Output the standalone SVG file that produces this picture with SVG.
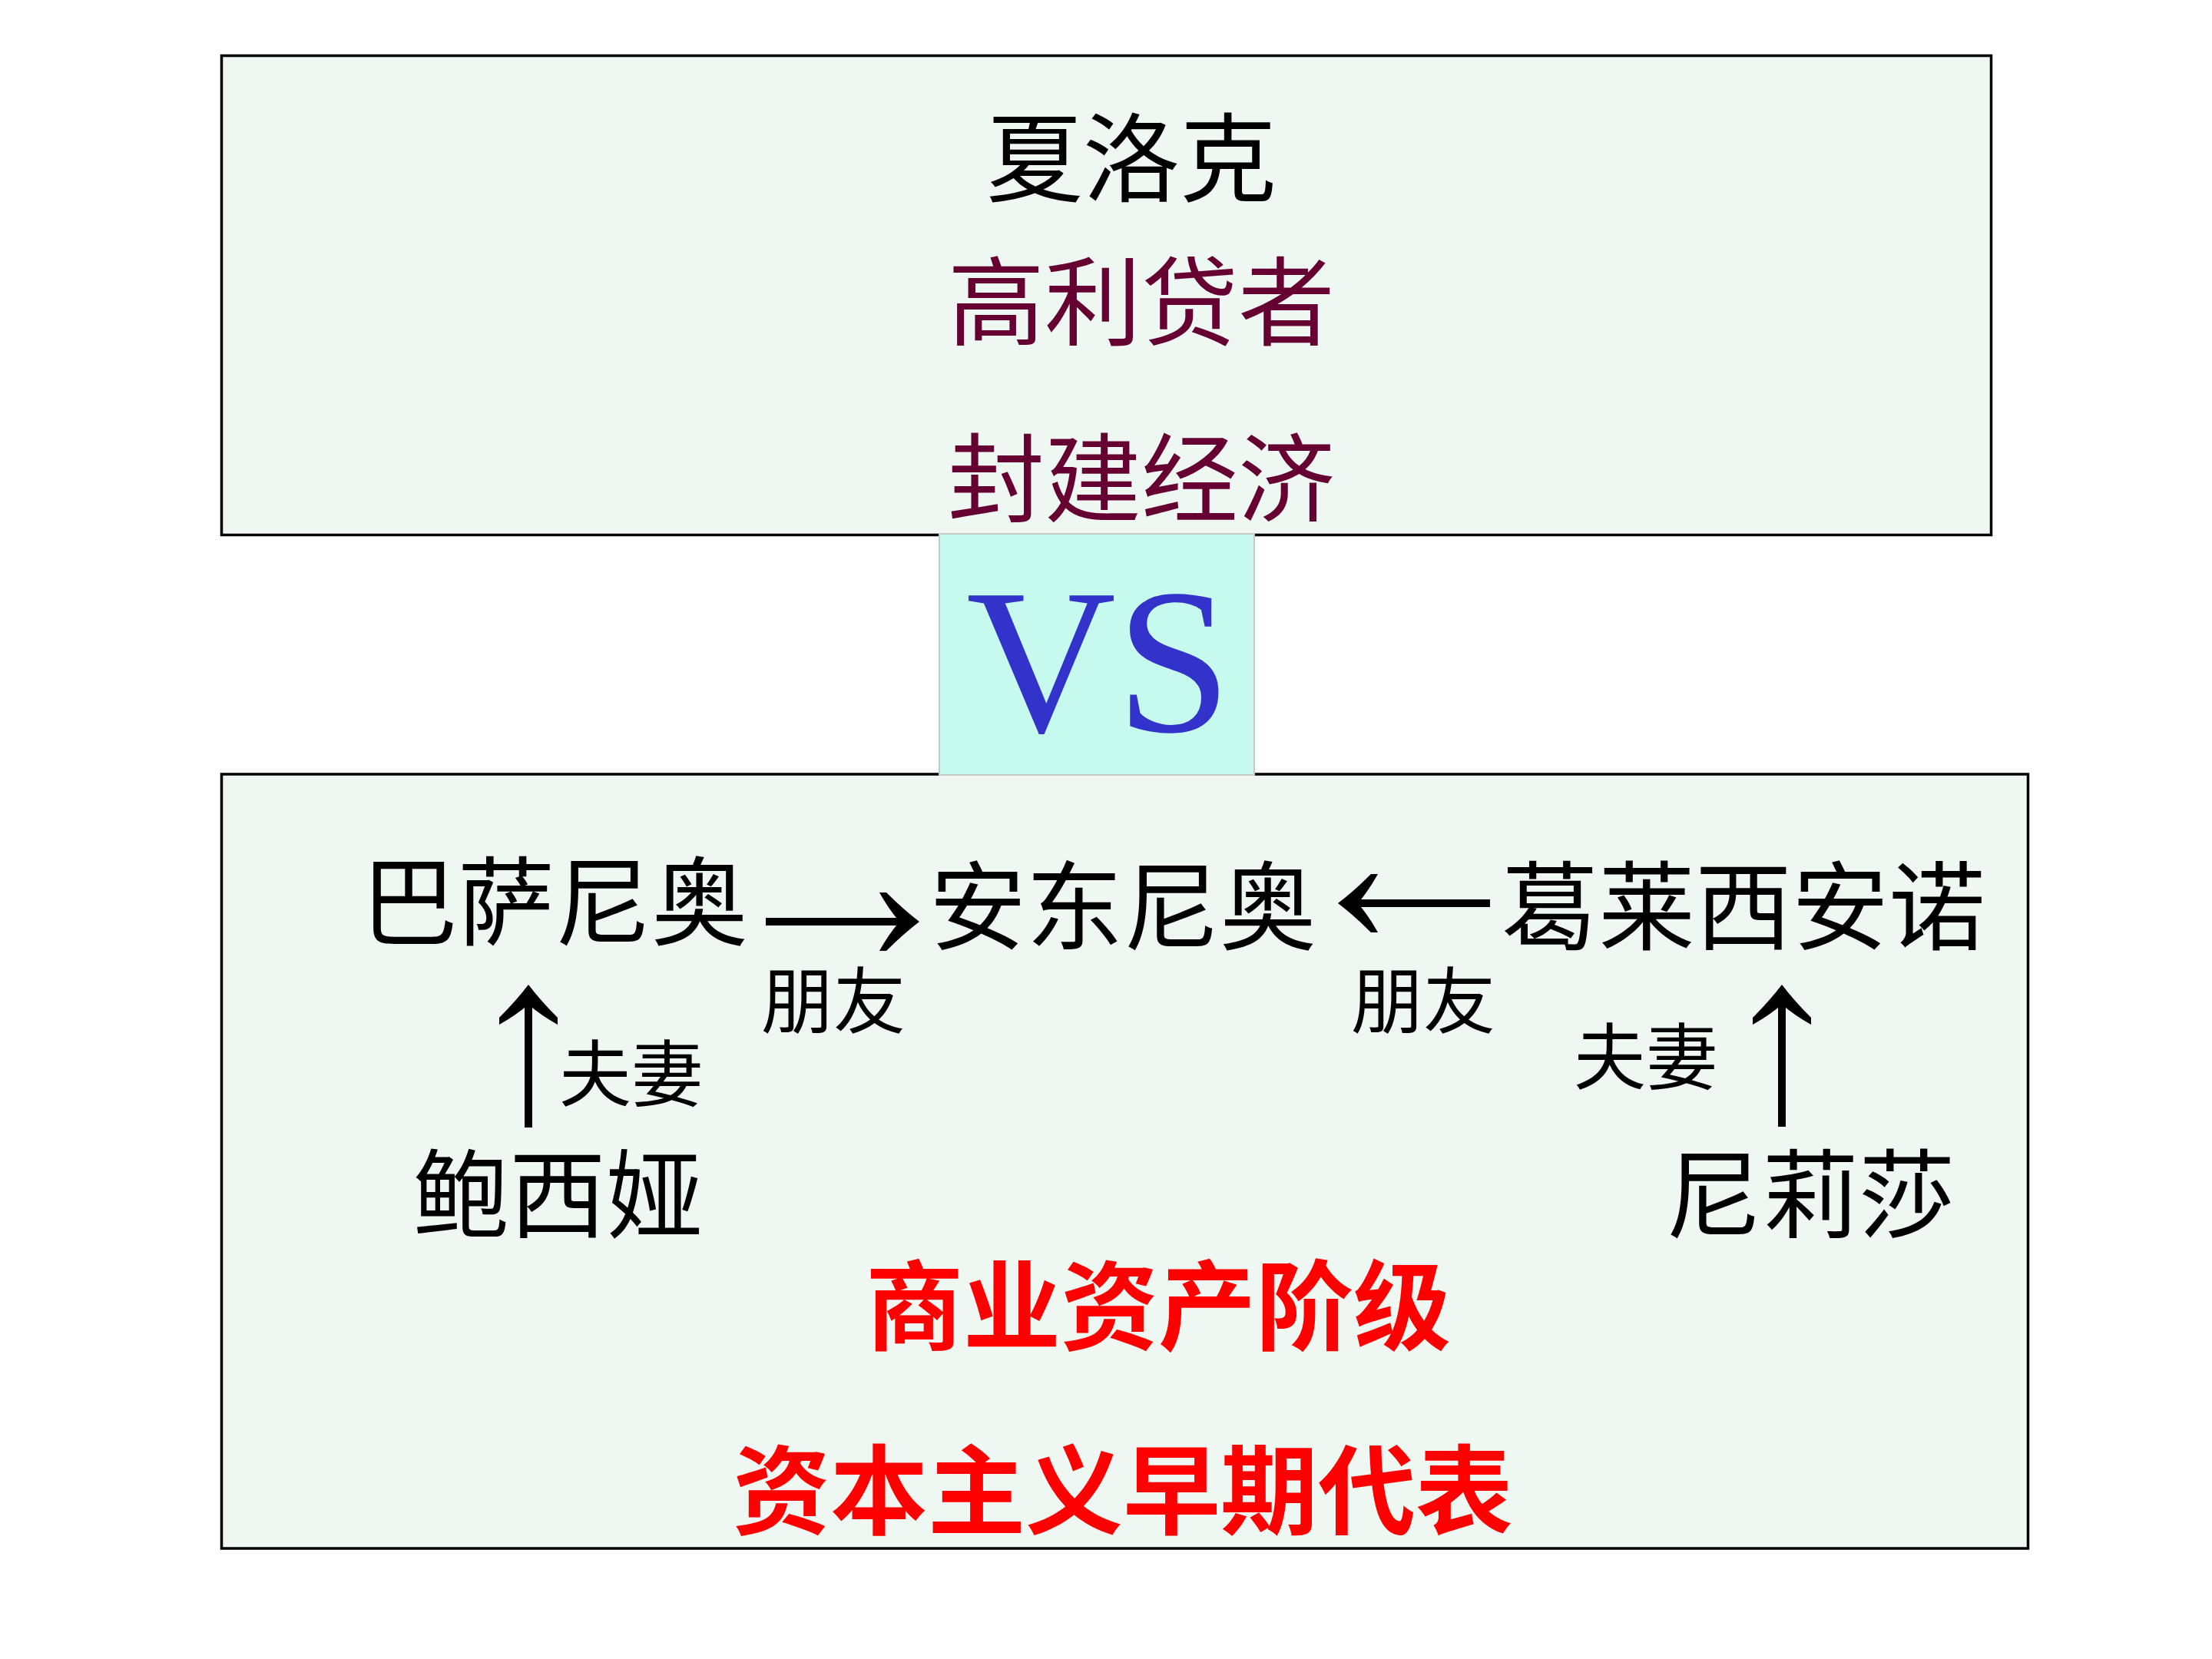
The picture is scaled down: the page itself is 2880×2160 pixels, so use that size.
<svg xmlns="http://www.w3.org/2000/svg" width="2880" height="2160" viewBox="0 0 2880 2160">
<style>
.box{fill:#eef7f2;stroke:#000;stroke-width:3.5}
.vsbox{fill:#c6faee;stroke:#c8c8c8;stroke-width:2}
.t{font-family:"Noto Sans CJK SC","Noto Sans CJK JP",sans-serif;font-size:126px;fill:#000;text-anchor:middle}
.s{font-size:94px}
.m{fill:#660033}
.r{fill:#ff0000;font-weight:700;font-size:127px}
.vs{font-family:"Liberation Serif","Times New Roman",serif;font-size:270px;fill:#3333cc}
.conn{stroke:#000;stroke-width:10;fill:none;marker-end:url(#head)}
</style>
<defs>
<marker id="head" markerUnits="userSpaceOnUse" viewBox="-56 -42 60 84" markerWidth="60" markerHeight="84" refX="-20" refY="0" orient="auto">
<path d="M0,0 Q-21,-16 -43,-38 L-52,-38 Q-41,-18 -26,0 Q-41,18 -52,38 L-43,38 Q-21,16 0,0 Z" fill="#000"/>
</marker>
</defs>
<rect width="2880" height="2160" fill="#fff"/>
<g id="top-box">
<rect class="box" x="288.5" y="72.5" width="2304" height="624"/>
<text class="t" x="1473" y="253">夏洛克</text>
<text class="t m" x="1486" y="440">高利贷者</text>
<text class="t m" x="1486" y="670">封建经济</text>
</g>
<g id="bottom-box">
<rect class="box" x="288.5" y="1008" width="2352" height="1008"/>
<text class="t r" x="1508" y="1748">商业资产阶级</text>
<text class="t r" x="1462" y="1988">资本主义早期代表</text>
</g>
<g id="vs">
<rect class="vsbox" x="1223" y="695" width="410" height="314"/>
<text class="vs" x="1258" y="952">VS</text>
</g>
<g id="bassanio"><text class="t" x="722" y="1221">巴萨尼奥</text></g>
<g id="antonio"><text class="t" x="1462" y="1227">安东尼奥</text></g>
<g id="gratiano"><text class="t" x="2270" y="1227">葛莱西安诺</text></g>
<g id="portia"><text class="t" x="726" y="1602">鲍西娅</text></g>
<g id="nerissa"><text class="t" x="2357" y="1602">尼莉莎</text></g>
<g id="connectors">
<line class="conn" x1="997" y1="1200" x2="1177" y2="1200"/>
<line class="conn" x1="1940" y1="1176" x2="1762" y2="1176"/>
<line class="conn" x1="688" y1="1468" x2="688" y2="1302"/>
<line class="conn" x1="2320" y1="1467" x2="2320" y2="1302"/>
<text class="t s" x="1085" y="1338">朋友</text>
<text class="t s" x="1853" y="1338">朋友</text>
<text class="t s" x="822" y="1433">夫妻</text>
<text class="t s" x="2143" y="1411">夫妻</text>
</g>
</svg>
